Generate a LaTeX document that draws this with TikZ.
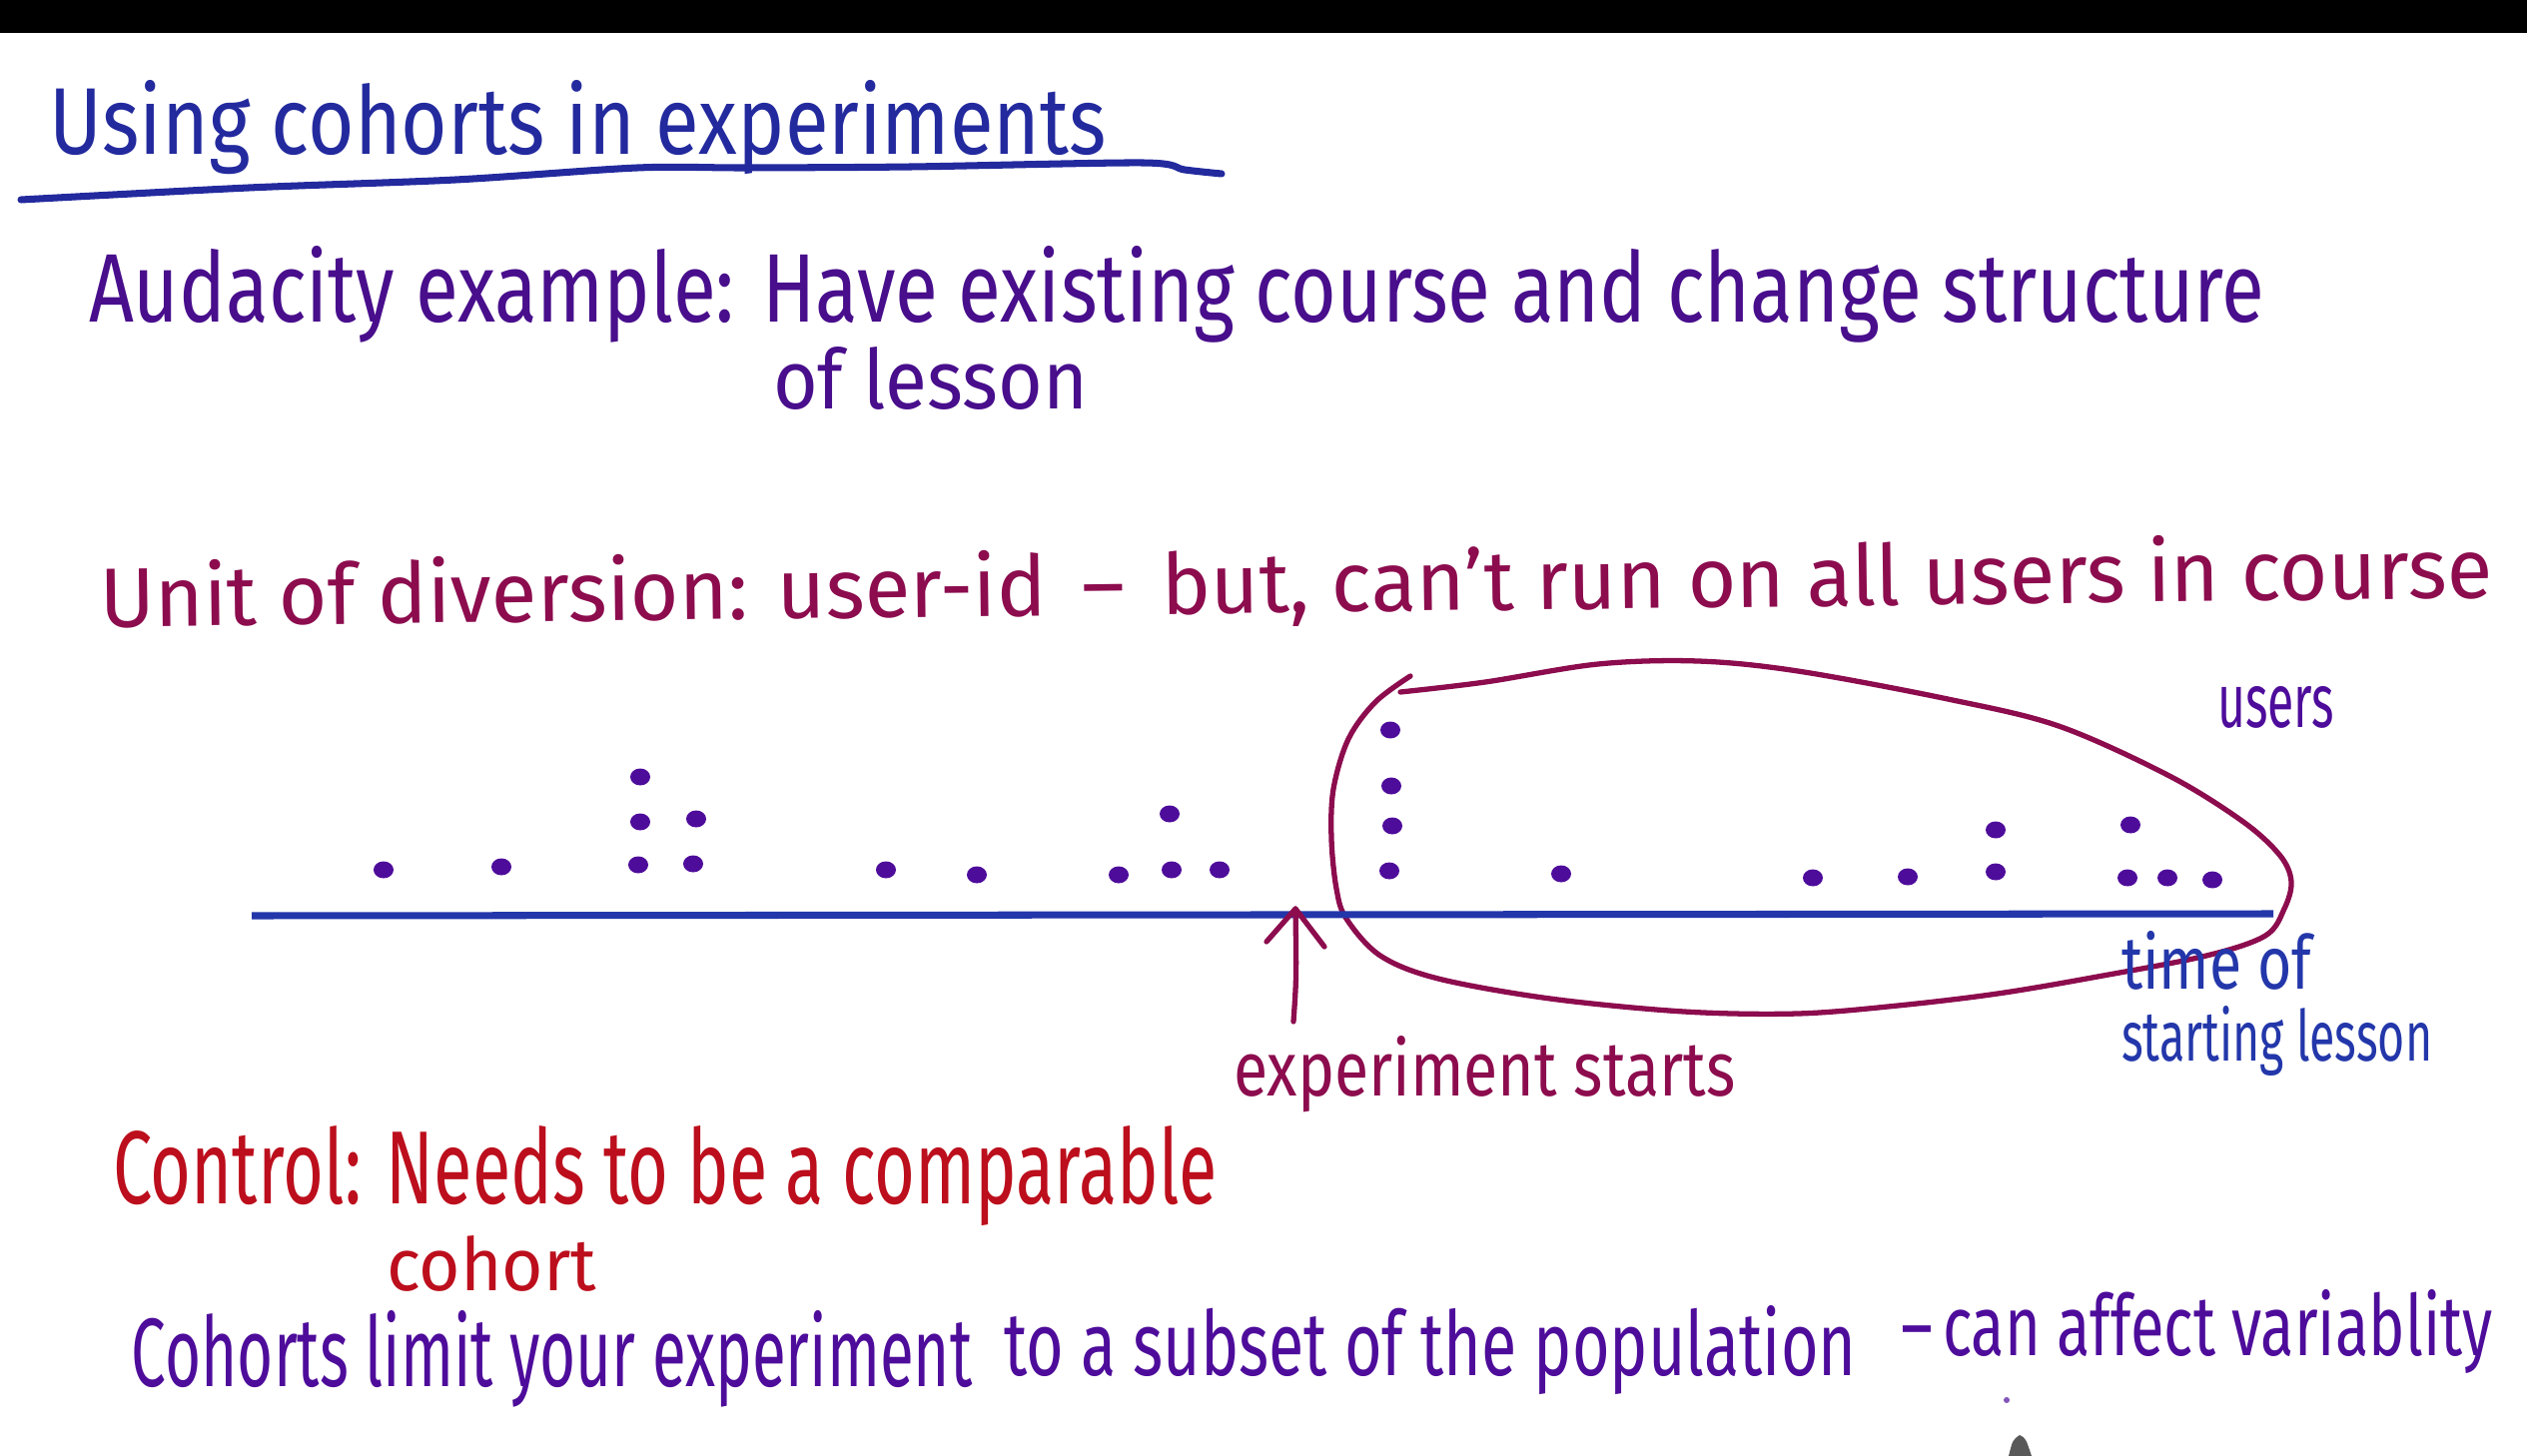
\documentclass[tikz,border=0pt]{standalone}
\usepackage{fontspec}
\setmainfont{Fira Sans}
\usepackage{graphicx}
\definecolor{titleblue}{RGB}{35,42,158}
\definecolor{linepurple}{RGB}{72,14,140}
\definecolor{maroon}{RGB}{140,12,78}
\definecolor{dotpurple}{RGB}{78,12,155}
\definecolor{lineblue}{RGB}{35,55,170}
\definecolor{ctrlred}{RGB}{188,14,28}
\newcommand{\hw}[3]{\resizebox{#1}{#2}{#3}}
\tikzset{
  txt/.style={inner sep=0pt, outer sep=0pt, anchor=base west},
  udot/.style={fill=dotpurple, draw=none},
  pen/.style={line width=1.5pt, line cap=round, line join=round},
}
\begin{document}
\begin{tikzpicture}[x=0.01cm, y=-0.01cm]
\useasboundingbox (0,0) rectangle (2530,1458);
\fill[white] (0,0) rectangle (2530,1458);
\fill[black] (0,0) rectangle (2530,33);

% title
\node[txt, text=titleblue] (title) at (50,155) {\hw{10.57cm}{0.74cm}{Using cohorts in experiments}};
\draw[pen, titleblue, line width=2pt] plot[smooth, tension=0.5] coordinates {(21,200) (249,188) (456,180) (638,168) (746,168) (912,167) (1144,163) (1186,170) (1223,174)};

% Audacity
\node[txt, text=linepurple] (aud) at (89,323) {\hw{21.77cm}{0.76cm}{Audacity example: Have existing course and change structure}};
\node[txt, text=linepurple] (aud2) at (774,410) {\hw{3.15cm}{0.62cm}{of lesson}};

% Unit of diversion
\node[txt, text=maroon, rotate=0.7] (unit) at (100,628) {\hw{23.94cm}{0.66cm}{Unit of diversion: user-id \,–\, but, can't run on all users in course}};

% ellipse
\draw[pen, maroon] plot[smooth, tension=0.55] coordinates {(1412,677) (1377,703) (1350,740) (1335,790) (1333,840) (1338,890) (1348,920) (1382,957) (1440,980) (1552,1000) (1686,1013) (1800,1015) (1900,1007) (2000,995) (2100,978) (2209,957) (2268,937) (2287,910) (2294,883) (2283,857) (2246,823) (2172,777) (2061,727) (1950,700) (1800,672) (1700,662) (1600,665) (1487,683) (1402,693)};

% timeline
\coordinate (tl0) at (252,917);
\coordinate (tl1) at (2276,915);
\draw[lineblue, line width=2pt] (tl0) -- (tl1);

% dots
\foreach \x/\y in {384/871, 502/868, 641/778, 641/823, 697/820, 639/866, 694/865, 887/871, 978/876, 1120/876, 1171/815, 1173/871, 1221/871, 1392/731, 1393/787, 1394/827, 1391/872, 1563/875, 1815/879, 1910/878, 1998/831, 1998/873, 2133/826, 2130/879, 2170/879, 2215/881}
  \fill[udot] (\x,\y) ellipse [x radius=10, y radius=8.5];

% arrow
\coordinate (atail) at (1295,1023);
\coordinate (atip) at (1297,910);
\draw[pen, maroon] (atail) .. controls (1298,980) .. (atip);
\draw[pen, maroon] (1268,943) -- (atip) -- (1326,948);

% labels
\node[txt, text=maroon] (exps) at (1235,1097) {\hw{5.02cm}{0.60cm}{experiment starts}};
\node[txt, text=dotpurple] (users) at (2220,728) {\hw{1.17cm}{0.41cm}{users}};
\node[txt, text=lineblue] (time1) at (2124,990) {\hw{1.90cm}{0.58cm}{time of}};
\node[txt, text=lineblue] (time2) at (2124,1062) {\hw{3.11cm}{0.55cm}{starting lesson}};

% control
\node[txt, text=ctrlred] (ctrl) at (113,1205) {\hw{11.05cm}{0.78cm}{Control: Needs to be a comparable}};
\node[txt, text=ctrlred] (ctrl2) at (387,1292) {\hw{2.10cm}{0.55cm}{cohort}};

% cohorts
\node[txt, text=dotpurple] (coh1) at (132,1388) {\hw{8.41cm}{0.76cm}{Cohorts limit your experiment}};
\node[txt, text=dotpurple] (coh2) at (1005,1377) {\hw{8.53cm}{0.70cm}{to a subset of the population}};
\node[txt, text=dotpurple] (coh3) at (1903,1357) {\hw{5.92cm}{0.66cm}{–\,can affect variablity}};

% cursor
\fill[dotpurple!70] (2009,1402) circle [radius=3];
\fill[black!65] (2022,1437) .. controls (2028,1440) .. (2034,1458) -- (2011,1458) .. controls (2015,1442) .. cycle;
\end{tikzpicture}
\end{document}
